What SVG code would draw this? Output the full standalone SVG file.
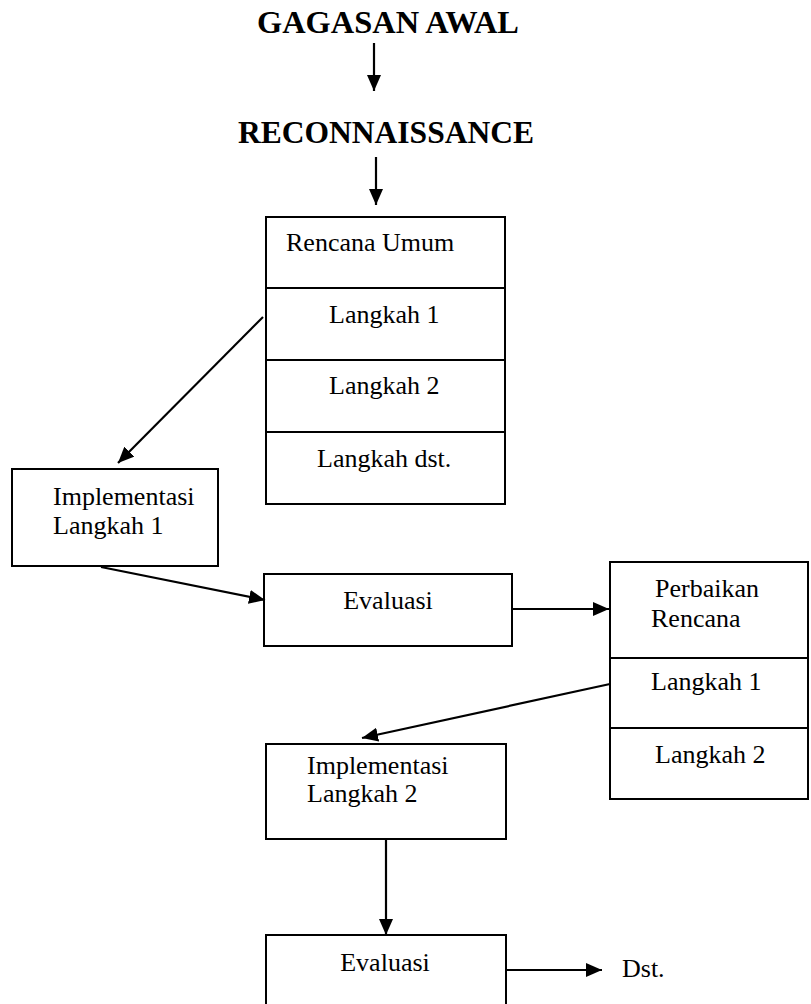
<svg xmlns="http://www.w3.org/2000/svg" width="811" height="1004" viewBox="0 0 811 1004">
<style>
.box{fill:#fff;stroke:#000;stroke-width:2}
.div{stroke:#000;stroke-width:2}
.t{font-family:"Liberation Serif","Times New Roman",serif;font-size:26px;fill:#000}
.h{font-family:"Liberation Serif","Times New Roman",serif;font-size:31.5px;font-weight:bold;fill:#000}
.c{stroke:#000;stroke-width:2.2;fill:none;marker-end:url(#ah)}
</style>
<defs>
<marker id="ah" markerUnits="userSpaceOnUse" markerWidth="17" markerHeight="14" refX="16" refY="7" orient="auto">
<path d="M0,0 L16,7 L0,14 z" fill="#000"/>
</marker>
</defs>
<rect width="811" height="1004" fill="#fff"/>
<g id="gagasan"><text class="h" x="388" y="33" text-anchor="middle" textLength="262" lengthAdjust="spacingAndGlyphs">GAGASAN AWAL</text></g>
<g id="recon"><text class="h" x="386" y="143" text-anchor="middle" textLength="296" lengthAdjust="spacingAndGlyphs">RECONNAISSANCE</text></g>
<g id="rencana-umum">
<rect class="box" x="266" y="217" width="239" height="287"/>
<line class="div" x1="266" y1="288" x2="505" y2="288"/>
<line class="div" x1="266" y1="360" x2="505" y2="360"/>
<line class="div" x1="266" y1="432" x2="505" y2="432"/>
<text class="t" x="286" y="251">Rencana Umum</text>
<text class="t" x="329" y="323">Langkah 1</text>
<text class="t" x="329" y="394">Langkah 2</text>
<text class="t" x="317" y="467">Langkah dst.</text>
</g>
<g id="impl1">
<rect class="box" x="12" y="469" width="206" height="97"/>
<text class="t" x="53" y="505">Implementasi</text>
<text class="t" x="53" y="534">Langkah 1</text>
</g>
<g id="eval1">
<rect class="box" x="264" y="574" width="248" height="72"/>
<text class="t" x="388" y="609" text-anchor="middle">Evaluasi</text>
</g>
<g id="perbaikan">
<rect class="box" x="610" y="562" width="198" height="237"/>
<line class="div" x1="610" y1="658" x2="808" y2="658"/>
<line class="div" x1="610" y1="728" x2="808" y2="728"/>
<text class="t" x="655" y="597">Perbaikan</text>
<text class="t" x="651" y="627">Rencana</text>
<text class="t" x="651" y="690">Langkah 1</text>
<text class="t" x="655" y="763">Langkah 2</text>
</g>
<g id="impl2">
<rect class="box" x="266" y="744" width="240" height="95"/>
<text class="t" x="307" y="774">Implementasi</text>
<text class="t" x="307" y="802">Langkah 2</text>
</g>
<g id="eval2">
<rect class="box" x="266" y="935" width="240" height="80"/>
<text class="t" x="385" y="971" text-anchor="middle">Evaluasi</text>
</g>
<g id="dst"><text class="t" x="622" y="977">Dst.</text></g>
<g id="connectors">
<line class="c" x1="374" y1="43" x2="374" y2="91"/>
<line class="c" x1="376" y1="157" x2="376" y2="205"/>
<line class="c" x1="263" y1="317" x2="118" y2="463"/>
<line class="c" x1="101" y1="567" x2="265" y2="600"/>
<line class="c" x1="512" y1="609" x2="609" y2="609"/>
<line class="c" x1="610" y1="684" x2="362" y2="738"/>
<line class="c" x1="386" y1="839" x2="386" y2="935"/>
<line class="c" x1="506" y1="970" x2="602" y2="970"/>
</g>
</svg>
